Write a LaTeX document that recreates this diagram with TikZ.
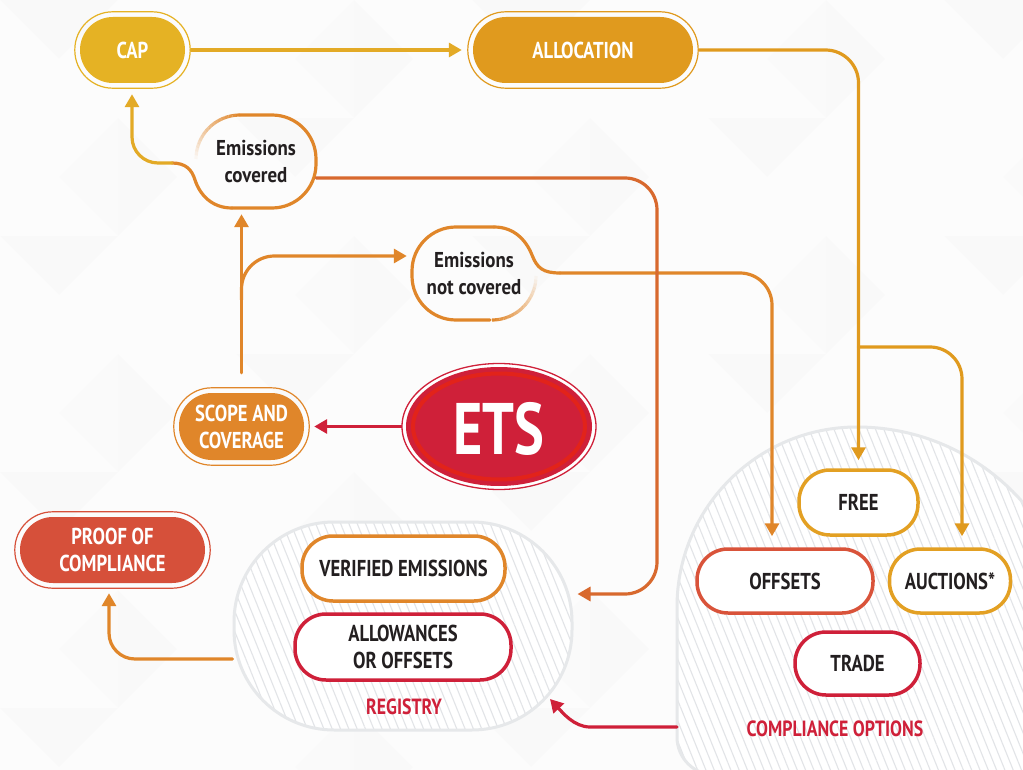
\documentclass[tikz,border=0pt]{standalone}
\usepackage{fontspec}
\setmainfont{PT Sans}[FakeStretch=0.81]
\newfontfamily\bubfam{PT Sans}[FakeStretch=0.88]
\usetikzlibrary{arrows.meta,patterns.meta,calc,shapes.geometric}

\definecolor{bgc}{HTML}{FCFCFC}
\definecolor{capc}{HTML}{E5B224}
\definecolor{capline}{HTML}{E3AA26}
\definecolor{allocc}{HTML}{E09A1E}
\definecolor{orng}{HTML}{E0862A}
\definecolor{proofc}{HTML}{D6503A}
\definecolor{crim}{HTML}{CF2039}
\definecolor{etsring}{HTML}{E2231A}
\definecolor{offc}{HTML}{D9533A}
\definecolor{freec}{HTML}{E3A023}
\definecolor{ecovline}{HTML}{D8692E}
\definecolor{dark}{HTML}{231F20}
\definecolor{hatch}{HTML}{E2E4E7}
\definecolor{blobedge}{HTML}{E6E8EA}

\newcommand\pillfont{\bfseries\fontsize{23}{27}\selectfont}
\newcommand\bubfont{\bubfam\bfseries\fontsize{21.5}{27}\selectfont}

\pgfdeclarelayer{back}
\pgfdeclarelayer{mid}
\pgfsetlayers{back,mid,main}

\tikzset{
  arr/.tip={Triangle[length=13pt,width=14pt]},
  conn/.style={line width=3.2pt, line cap=round, line join=round},
  fpill/.style={fill=#1, rectangle, rounded corners=33pt, text=white,
    font=\pillfont, align=center, inner sep=0pt},
  ring/.style={draw=#1, line width=1.2pt, rounded corners=38pt},
  opill/.style={draw=#1, fill=white, rectangle, line width=3.5pt,
    rounded corners=31pt, text=dark, font=\pillfont, align=center, inner sep=0pt},
  btext/.style={text=dark, font=\bubfont, align=center, inner sep=0pt},
  blob/.style={draw=blobedge, line width=3pt, preaction={fill=white},
    pattern={Lines[angle=-68,distance=7.7pt,line width=1.1pt]}, pattern color=hatch},
  lbl/.style={text=crim, font=\bfseries\fontsize{22}{24}\selectfont, inner sep=0pt},
}

\begin{document}
\begin{tikzpicture}[x=1pt,y=-1pt]
\useasboundingbox (0,0) rectangle (1023,770);

\begin{pgfonlayer}{back}
% background with faint triangular tiling
\fill[bgc] (0,0) rectangle (1023,770);
\foreach \i in {0,...,8}{
  \foreach \j in {0,...,6}{
    \pgfmathtruncatemacro\k{mod(\i*3+\j*2,4)}
    \ifnum\k=0 \fill[black,opacity=0.012] (\i*118,\j*118) -- ++(118,0) -- ++(-59,59) -- cycle; \fi
    \ifnum\k=1 \fill[black,opacity=0.010] (\i*118,\j*118) -- ++(0,118) -- ++(59,-59) -- cycle; \fi
    \ifnum\k=2 \fill[black,opacity=0.008] (\i*118+118,\j*118) -- ++(0,118) -- ++(-59,-59) -- cycle; \fi
  }
}
% hatched groups
\draw[blob] (1100,775) -- (715,775) .. controls (694,775) and (677,758) .. (677,737)
  -- (677,607) .. controls (677,507.6) and (757.6,427) .. (857,427)
  .. controls (978.5,427) and (1077,525.5) .. (1077,647) -- (1077,775) -- cycle;
\node[blob, rectangle, rounded corners=100pt, minimum width=338pt, minimum height=208pt] (reg) at (403,626) {};
\end{pgfonlayer}
\coordinate (compw) at (677,727);

% text of the two open bubbles
\node[btext, minimum width=120pt, minimum height=93pt] (ecov) at (256,161.5) {Emissions\\covered};
\node[btext, minimum width=124pt, minimum height=93pt] (encov) at (474,273.5) {Emissions\\not covered};

% filled boxes
\node[fpill=capc, minimum width=105pt, minimum height=66pt] (cap) at (132.5,50) {CAP};
\node[fpill=allocc, minimum width=220pt, minimum height=66pt] (alloc) at (583,50) {ALLOCATION};
\node[fpill=orng, minimum width=125pt, minimum height=67pt] (scope) at (241.5,426.5) {SCOPE AND\\COVERAGE};
\node[fpill=proofc, minimum width=185pt, minimum height=66pt] (proof) at (112.5,550) {PROOF OF\\COMPLIANCE};
\foreach \n/\c in {cap/capc, alloc/allocc, scope/orng, proof/proofc}
  \draw[ring=\c] ([shift={(-5,-5)}]\n.north west) rectangle ([shift={(5,5)}]\n.south east);

% ETS
\fill[white] (499,426.5) ellipse [x radius=97pt, y radius=63pt];
\draw[crim, line width=1.3pt] (499,426.5) ellipse [x radius=97pt, y radius=63pt];
\node[ellipse, fill=crim, minimum width=186pt, minimum height=119pt, inner sep=0pt] (ets) at (499,426.5) {};
\draw[etsring, line width=4pt] (ets.center) ellipse [x radius=86pt, y radius=53pt];
\node[text=white, font=\bfseries\fontsize{73}{73}\selectfont, xscale=0.95, inner sep=0pt] (etst) at ([shift={(0,2)}]ets.center) {ETS};

% outlined boxes
\node[opill=orng, minimum width=203pt, minimum height=65pt] (ver) at (403.5,568.5) {VERIFIED EMISSIONS};
\node[opill=crim, minimum width=216pt, minimum height=66pt] (allow) at (403,647) {ALLOWANCES\\OR OFFSETS};
\node[opill=freec, minimum width=119pt, minimum height=65pt] (free) at (858.5,502.5) {FREE};
\node[opill=offc, minimum width=176pt, minimum height=64pt] (offs) at (785,581) {OFFSETS};
\node[opill=freec, minimum width=121pt, minimum height=64pt] (auct) at (950,581) {AUCTIONS*};
\node[opill=crim, minimum width=125pt, minimum height=63pt] (trade) at (857.5,663.5) {TRADE};

% group captions
\node[lbl] (regl) at (404,707) {REGISTRY};
\node[lbl] (compl) at (835,729) {COMPLIANCE OPTIONS};

\begin{pgfonlayer}{mid}
% connectors
\draw[conn, draw=capline, -{arr}] ([shift={(6,0)}]cap.east) -- ([shift={(-11,0)}]alloc.west);
\draw[conn, draw=allocc, rounded corners=33pt, -{arr}] ([shift={(6,0)}]alloc.east) -- (858.5,50) -- ([shift={(0,-8)}]free.north);
\draw[conn, draw=allocc, rounded corners=32pt, -{arr}] (858.5,347) -- (962,347) -- ([shift={(12,-11)}]auct.north);

% Emissions covered: bubble outline running into the connector to CAP
\draw[conn, draw=orng, rounded corners=44pt] (240,115) -- (316,115) -- (316,208) -- (232,208);
\draw[conn, draw=orng] (232,208) .. controls (212,208) and (200,195) .. (195,180)
  .. controls (192,170) and (186,163) .. (172,163);
\draw[conn, draw=capline, rounded corners=26pt, -{arr}] (172,163) -- (132,163) -- ([shift={(-0.5,11)}]cap.south);
\foreach \a [evaluate=\a as \op using 1-(\a+2.5)/92] in {0,5,...,85}
  \draw[line width=3.2pt, draw=orng, opacity=\op]
    ({240-44*sin(\a)},{159-44*cos(\a)}) -- ({240-44*sin(\a+5)},{159-44*cos(\a+5)});

% Emissions not covered: bubble outline running into the connector to OFFSETS
\draw[conn, draw=orng, rounded corners=44pt] (490,320) -- (412,320) -- (412,227) -- (494,227);
\draw[conn, draw=orng] (494,227) .. controls (514,227) and (526,240) .. (532,255)
  .. controls (537,268) and (543,273) .. (560,273);
\draw[conn, draw=orng, rounded corners=32pt, -{arr}] (560,273) -- (772,273) -- ([shift={(-13,-11)}]offs.north);
\foreach \a [evaluate=\a as \op using 1-(\a+2.5)/92] in {0,5,...,85}
  \draw[line width=3.2pt, draw=orng, opacity=\op]
    ({492+44*sin(\a)},{276+44*cos(\a)}) -- ({492+44*sin(\a+5)},{276+44*cos(\a+5)});

% Emissions covered -> registry
\coordinate (regin) at ([shift={(4,-32)}]reg.east);
\draw[conn, draw=ecovline, rounded corners=32pt, -{arr}] ([shift={(0,16.5)}]ecov.east) -- (657,178) -- (657,594) -- (regin);

% scope -> emissions
\draw[conn, draw=orng, -{arr}] ([shift={(0,-20)}]scope.north) -- ($(scope.north |- ecov.south)+(0,6)$);
\draw[conn, draw=orng, rounded corners=33pt, -{arr}] ($(scope.north)+(0,-93)$) -- (241.5,256) -- ([shift={(-5,-17.5)}]encov.west);

% registry -> proof of compliance
\draw[conn, draw=orng, rounded corners=26pt, -{arr}] ([shift={(0,33)}]reg.west) -- (109,659) -- ([shift={(-3.5,10)}]proof.south);

% compliance options -> registry
\draw[conn, draw=crim, -{arr}] (compw) -- (590,727) .. controls (574,727) and (562,712) .. (550,699);

% ETS -> scope
\draw[conn, draw=crim, -{arr}] (ets.center) -- ([shift={(10,0)}]scope.east);
\end{pgfonlayer}
\end{tikzpicture}
\end{document}
